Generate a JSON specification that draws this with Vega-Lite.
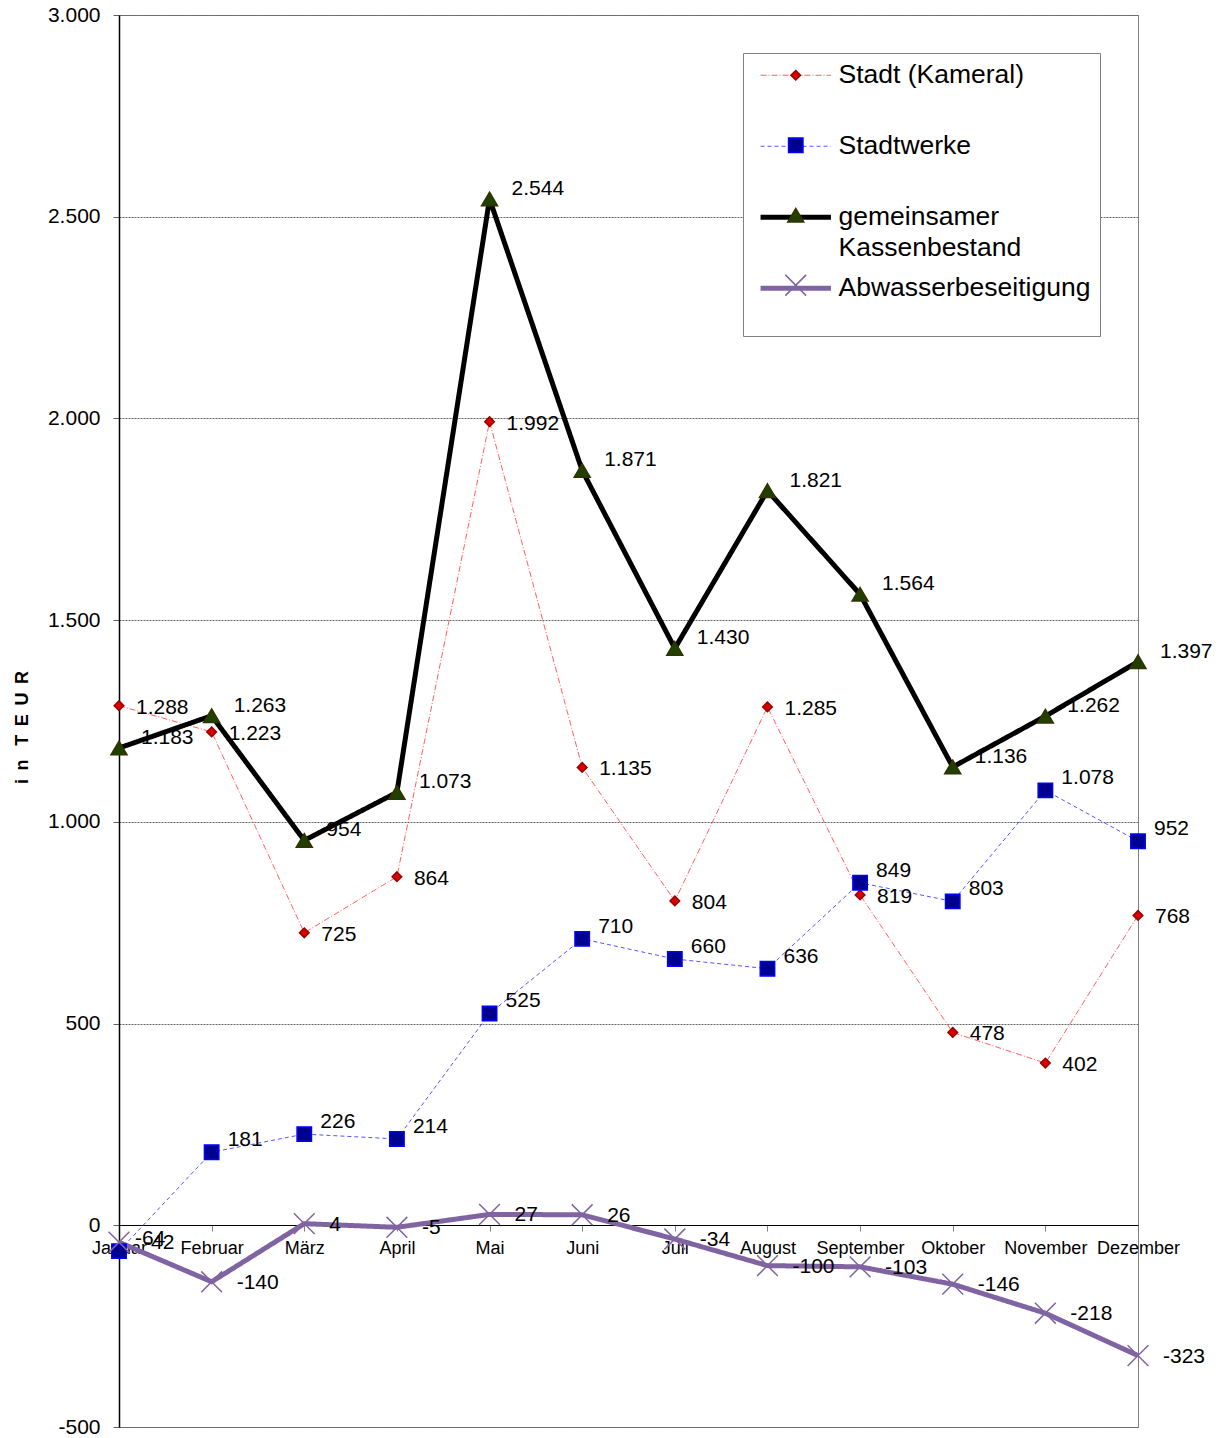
{
  "$schema": "https://vega.github.io/schema/vega-lite/v6.json",
  "width": 1019,
  "height": 1412,
  "autosize": {"type": "none"},
  "padding": {"left": 119, "top": 15, "right": 84, "bottom": 11},
  "background": "white",
  "config": {
    "locale": {"number": {"decimal": ",", "thousands": ".", "grouping": [3], "currency": ["", " €"], "minus": "-"}},
    "font": "Liberation Sans",
    "view": {"stroke": "#808080", "strokeWidth": 1},
    "axis": {"labelFont": "Liberation Sans", "titleFont": "Liberation Sans", "labelColor": "black"}
  },
  "data": {
    "values": [
      {"Monat": "Januar", "Serie": "Stadt (Kameral)", "Wert": 1288, "order": 1},
      {"Monat": "Februar", "Serie": "Stadt (Kameral)", "Wert": 1223, "order": 1},
      {"Monat": "März", "Serie": "Stadt (Kameral)", "Wert": 725, "order": 1},
      {"Monat": "April", "Serie": "Stadt (Kameral)", "Wert": 864, "order": 1},
      {"Monat": "Mai", "Serie": "Stadt (Kameral)", "Wert": 1992, "order": 1},
      {"Monat": "Juni", "Serie": "Stadt (Kameral)", "Wert": 1135, "order": 1},
      {"Monat": "Juli", "Serie": "Stadt (Kameral)", "Wert": 804, "order": 1},
      {"Monat": "August", "Serie": "Stadt (Kameral)", "Wert": 1285, "order": 1},
      {"Monat": "September", "Serie": "Stadt (Kameral)", "Wert": 819, "order": 1},
      {"Monat": "Oktober", "Serie": "Stadt (Kameral)", "Wert": 478, "order": 1},
      {"Monat": "November", "Serie": "Stadt (Kameral)", "Wert": 402, "order": 1},
      {"Monat": "Dezember", "Serie": "Stadt (Kameral)", "Wert": 768, "order": 1},
      {"Monat": "Januar", "Serie": "Stadtwerke", "Wert": -64, "order": 2},
      {"Monat": "Februar", "Serie": "Stadtwerke", "Wert": 181, "order": 2},
      {"Monat": "März", "Serie": "Stadtwerke", "Wert": 226, "order": 2},
      {"Monat": "April", "Serie": "Stadtwerke", "Wert": 214, "order": 2},
      {"Monat": "Mai", "Serie": "Stadtwerke", "Wert": 525, "order": 2},
      {"Monat": "Juni", "Serie": "Stadtwerke", "Wert": 710, "order": 2},
      {"Monat": "Juli", "Serie": "Stadtwerke", "Wert": 660, "order": 2},
      {"Monat": "August", "Serie": "Stadtwerke", "Wert": 636, "order": 2},
      {"Monat": "September", "Serie": "Stadtwerke", "Wert": 849, "order": 2},
      {"Monat": "Oktober", "Serie": "Stadtwerke", "Wert": 803, "order": 2},
      {"Monat": "November", "Serie": "Stadtwerke", "Wert": 1078, "order": 2},
      {"Monat": "Dezember", "Serie": "Stadtwerke", "Wert": 952, "order": 2},
      {"Monat": "Januar", "Serie": "gemeinsamer Kassenbestand", "Wert": 1183, "order": 3},
      {"Monat": "Februar", "Serie": "gemeinsamer Kassenbestand", "Wert": 1263, "order": 3},
      {"Monat": "März", "Serie": "gemeinsamer Kassenbestand", "Wert": 954, "order": 3},
      {"Monat": "April", "Serie": "gemeinsamer Kassenbestand", "Wert": 1073, "order": 3},
      {"Monat": "Mai", "Serie": "gemeinsamer Kassenbestand", "Wert": 2544, "order": 3},
      {"Monat": "Juni", "Serie": "gemeinsamer Kassenbestand", "Wert": 1871, "order": 3},
      {"Monat": "Juli", "Serie": "gemeinsamer Kassenbestand", "Wert": 1430, "order": 3},
      {"Monat": "August", "Serie": "gemeinsamer Kassenbestand", "Wert": 1821, "order": 3},
      {"Monat": "September", "Serie": "gemeinsamer Kassenbestand", "Wert": 1564, "order": 3},
      {"Monat": "Oktober", "Serie": "gemeinsamer Kassenbestand", "Wert": 1136, "order": 3},
      {"Monat": "November", "Serie": "gemeinsamer Kassenbestand", "Wert": 1262, "order": 3},
      {"Monat": "Dezember", "Serie": "gemeinsamer Kassenbestand", "Wert": 1397, "order": 3},
      {"Monat": "Januar", "Serie": "Abwasserbeseitigung", "Wert": -42, "order": 4},
      {"Monat": "Februar", "Serie": "Abwasserbeseitigung", "Wert": -140, "order": 4},
      {"Monat": "März", "Serie": "Abwasserbeseitigung", "Wert": 4, "order": 4},
      {"Monat": "April", "Serie": "Abwasserbeseitigung", "Wert": -5, "order": 4},
      {"Monat": "Mai", "Serie": "Abwasserbeseitigung", "Wert": 27, "order": 4},
      {"Monat": "Juni", "Serie": "Abwasserbeseitigung", "Wert": 26, "order": 4},
      {"Monat": "Juli", "Serie": "Abwasserbeseitigung", "Wert": -34, "order": 4},
      {"Monat": "August", "Serie": "Abwasserbeseitigung", "Wert": -100, "order": 4},
      {"Monat": "September", "Serie": "Abwasserbeseitigung", "Wert": -103, "order": 4},
      {"Monat": "Oktober", "Serie": "Abwasserbeseitigung", "Wert": -146, "order": 4},
      {"Monat": "November", "Serie": "Abwasserbeseitigung", "Wert": -218, "order": 4},
      {"Monat": "Dezember", "Serie": "Abwasserbeseitigung", "Wert": -323, "order": 4}
    ]
  },
  "encoding": {
    "x": {
      "field": "Monat", "type": "ordinal",
      "sort": ["Januar", "Februar", "März", "April", "Mai", "Juni", "Juli", "August", "September", "Oktober", "November", "Dezember"],
      "scale": {"type": "point", "padding": 0},
      "axis": {
        "title": null, "orient": "bottom", "offset": -202, "labelAngle": 0,
        "domainColor": "black", "domainWidth": 1, "tickColor": "#808080", "tickSize": 6,
        "labelFontSize": 18, "labelPadding": 8, "labelOverlap": false, "grid": false, "zindex": 0
      }
    },
    "y": {
      "field": "Wert", "type": "quantitative",
      "scale": {"domain": [-500, 3000], "nice": false, "zero": false},
      "axis": {
        "values": [-500, 0, 500, 1000, 1500, 2000, 2500, 3000],
        "format": ",d",
        "title": "i\u00a0\u2009n\u00a0\u00a0\u2009T\u00a0\u2009E\u00a0\u2009U\u00a0\u2009R", "titleFontSize": 18, "titleFontWeight": "bold",
        "titleX": -97, "titleY": 712, "titleAngle": -90, "titleAlign": "center", "titleBaseline": "middle",
        "domainColor": "black", "domainWidth": 1.5, "tickColor": "#606060", "tickSize": 6,
        "labelFontSize": 21, "labelPadding": 13,
        "grid": true, "gridColor": "#666666", "gridDash": [2, 1], "gridWidth": 1
      }
    }
  },
  "layer": [
    {
      "mark": {"type": "line", "strokeJoin": "miter"},
      "encoding": {
        "color": {
          "field": "Serie", "type": "nominal",
          "scale": {"domain": ["Stadt (Kameral)", "Stadtwerke", "gemeinsamer Kassenbestand", "Abwasserbeseitigung"], "range": ["#FF6060", "#5555FF", "#000000", "#8064A2"]},
          "legend": {
            "title": " ", "titleOrient": "bottom", "titleFontSize": 18, "titlePadding": 7,
            "orient": "none", "legendX": 624, "legendY": 38,
            "padding": 9, "strokeColor": "#808080", "fillColor": "white",
            "symbolType": "M-4.4,0H4.4", "symbolSize": 256, "symbolOffset": 30.5, "labelOffset": 29.5,
            "labelFontSize": 26.5, "labelFont": "Liberation Sans", "labelColor": "black", "labelLimit": 400,
            "gridAlign": "all", "rowPadding": 13,
            "labelExpr": "datum.value == 'gemeinsamer Kassenbestand' ? ['gemeinsamer', 'Kassenbestand'] : datum.label",
            "encode": {
              "labels": {"update": {"lineHeight": {"value": 31}}},
              "symbols": {"update": {"stroke": {"scale": "color", "field": "value"}, "fill": {"value": "transparent"}}}
            }
          }
        },
        "strokeDash": {
          "field": "Serie", "type": "nominal",
          "scale": {"domain": ["Stadt (Kameral)", "Stadtwerke", "gemeinsamer Kassenbestand", "Abwasserbeseitigung"], "range": [[6, 2, 1, 2], [4, 3], [1, 0], [1, 0]]},
          "legend": null
        },
        "strokeWidth": {
          "field": "Serie", "type": "nominal",
          "scale": {"type": "ordinal", "domain": ["Stadt (Kameral)", "Stadtwerke", "gemeinsamer Kassenbestand", "Abwasserbeseitigung"], "range": [1, 1, 5, 5]},
          "legend": null
        }
      }
    },
    {
      "mark": {"type": "point", "filled": true, "size": 256, "strokeWidth": 1.5, "opacity": 1},
      "encoding": {
        "shape": {
          "field": "Serie", "type": "nominal", "sort": {"field": "order"},
          "scale": {"range": ["M0,-0.6L0.6,0L0,0.6L-0.6,0Z", "M-0.9,-0.9H0.9V0.9H-0.9Z", "M0,-0.85L1,0.85H-1Z", "M-1.3,-1.3L1.3,1.3M-1.3,1.3L1.3,-1.3"]},
          "legend": {
            "title": null, "orient": "none", "legendX": 624, "legendY": 38,
            "padding": 9, "symbolSize": 256, "symbolOffset": 30.5, "labelOffset": 29.5,
            "labelFontSize": 26.5, "labelFont": "Liberation Sans", "labelOpacity": 0, "labelLimit": 400,
            "gridAlign": "all", "rowPadding": 13,
            "labelExpr": "datum.value == 'gemeinsamer Kassenbestand' ? [' ', ' '] : ' '",
            "encode": {"labels": {"update": {"lineHeight": {"value": 31}}}}
          }
        },
        "fill": {
          "field": "Serie", "type": "nominal", "sort": {"field": "order"},
          "scale": {"range": ["#DD0000", "#000090", "#1F4000", "#8064A2"]}
        },
        "stroke": {
          "field": "Serie", "type": "nominal", "sort": {"field": "order"},
          "scale": {"range": ["#990000", "#0000FF", "#333300", "#8064A2"]}
        }
      }
    },
    {
      "transform": [{"filter": "datum.Serie == 'Stadt (Kameral)'"}],
      "mark": {"type": "text", "align": "left", "baseline": "middle", "dx": 17, "dy": 2, "fontSize": 21, "font": "Liberation Sans", "color": "black"},
      "encoding": {"text": {"field": "Wert", "type": "quantitative", "format": ","}}
    },
    {
      "transform": [{"filter": "datum.Serie == 'Stadtwerke'"}],
      "mark": {"type": "text", "align": "left", "baseline": "middle", "dx": 16, "dy": -12, "fontSize": 21, "font": "Liberation Sans", "color": "black"},
      "encoding": {"text": {"field": "Wert", "type": "quantitative", "format": ","}}
    },
    {
      "transform": [{"filter": "datum.Serie == 'gemeinsamer Kassenbestand'"}],
      "mark": {"type": "text", "align": "left", "baseline": "middle", "dx": 22, "dy": -10, "fontSize": 21, "font": "Liberation Sans", "color": "black"},
      "encoding": {"text": {"field": "Wert", "type": "quantitative", "format": ","}}
    },
    {
      "transform": [{"filter": "datum.Serie == 'Abwasserbeseitigung'"}],
      "mark": {"type": "text", "align": "left", "baseline": "middle", "dx": 25, "dy": 1, "fontSize": 21, "font": "Liberation Sans", "color": "black"},
      "encoding": {"text": {"field": "Wert", "type": "quantitative", "format": ","}}
    }
  ]
}
